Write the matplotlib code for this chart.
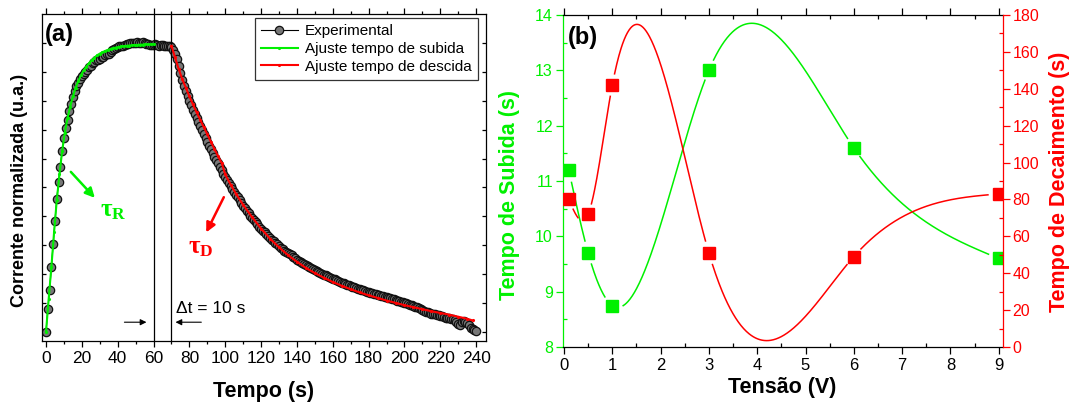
import numpy as np
import matplotlib
matplotlib.use("Agg")
import matplotlib.pyplot as plt

plt.rcParams['font.family'] = ['Liberation Sans', 'DejaVu Sans']

# ---------------- panel (a) data ----------------
t_exp = list(range(0, 241))
i_exp = [
    0.000, 0.080, 0.145, 0.225, 0.305, 0.385, 0.460, 0.520, 0.572, 0.625,
    0.672, 0.705, 0.735, 0.765, 0.790, 0.812, 0.835, 0.850, 0.862, 0.875,
    0.886, 0.893, 0.900, 0.906, 0.915, 0.920, 0.930, 0.935, 0.940, 0.942,
    0.945, 0.950, 0.952, 0.958, 0.960, 0.962, 0.968, 0.975, 0.980, 0.982,
    0.985, 0.988, 0.990, 0.990, 0.992, 0.995, 0.997, 0.998, 1.000, 0.998,
    1.000, 1.002, 1.000, 0.998, 1.003, 1.000, 0.997, 0.995, 0.993, 0.992,
    0.994, 0.995, 0.993, 0.990, 0.992, 0.994, 0.990, 0.988, 0.990, 0.988,
    0.985, 0.975, 0.962, 0.945, 0.920, 0.895, 0.872, 0.852, 0.833, 0.815,
    0.799, 0.784, 0.769, 0.754, 0.740, 0.726, 0.712, 0.698, 0.684, 0.671,
    0.658, 0.645, 0.632, 0.620, 0.607, 0.595, 0.583, 0.571, 0.560, 0.548,
    0.537, 0.527, 0.516, 0.506, 0.495, 0.485, 0.475, 0.466, 0.456, 0.446,
    0.437, 0.429, 0.420, 0.412, 0.403, 0.395, 0.388, 0.380, 0.372, 0.364,
    0.357, 0.351, 0.345, 0.338, 0.332, 0.325, 0.320, 0.314, 0.309, 0.303,
    0.297, 0.292, 0.287, 0.282, 0.277, 0.273, 0.270, 0.266, 0.260, 0.255,
    0.250, 0.247, 0.243, 0.239, 0.236, 0.232, 0.229, 0.226, 0.222, 0.218,
    0.215, 0.212, 0.208, 0.205, 0.202, 0.199, 0.196, 0.193, 0.190, 0.187,
    0.184, 0.182, 0.179, 0.176, 0.173, 0.171, 0.169, 0.166, 0.164, 0.161,
    0.159, 0.157, 0.155, 0.153, 0.150, 0.148, 0.146, 0.144, 0.142, 0.140,
    0.138, 0.136, 0.135, 0.133, 0.131, 0.129, 0.127, 0.126, 0.124, 0.122,
    0.120, 0.119, 0.117, 0.115, 0.113, 0.111, 0.109, 0.107, 0.105, 0.103,
    0.101, 0.099, 0.097, 0.095, 0.092, 0.090, 0.087, 0.085, 0.082, 0.079,
    0.077, 0.074, 0.071, 0.068, 0.066, 0.064, 0.063, 0.061, 0.059, 0.058,
    0.056, 0.054, 0.052, 0.050, 0.049, 0.047, 0.046, 0.045, 0.042, 0.035,
    0.028, 0.026, 0.035, 0.037, 0.036, 0.032, 0.025, 0.015, 0.010, 0.006,
    0.005,
]

t_rise_fit = [0, 1.5, 3, 4.5, 6, 7.5, 9, 10.5, 12, 13.5, 15, 16.5, 18, 19.5,
              21, 22.5, 24, 25.5, 27, 28.5, 30, 31.5, 33, 34.5, 36, 37.5, 39,
              40.5, 42, 43.5, 45, 46.5, 48, 49.5, 51, 52.5, 54, 55.5, 57, 58.5, 60]
i_rise_fit = [0.000, 0.115, 0.225, 0.345, 0.455, 0.545, 0.625, 0.690, 0.740,
              0.780, 0.815, 0.845, 0.868, 0.888, 0.905, 0.918, 0.930, 0.940,
              0.949, 0.957, 0.963, 0.968, 0.972, 0.976, 0.979, 0.982, 0.984,
              0.986, 0.988, 0.989, 0.990, 0.991, 0.992, 0.993, 0.993, 0.994,
              0.994, 0.995, 0.995, 0.995, 0.995]

t_decay_fit = [70, 72, 74, 76, 78, 80, 82, 84, 86, 88, 90, 92, 94, 96, 98,
               100, 103, 106, 110, 115, 120, 125, 130, 135, 140, 145, 150, 155,
               160, 165, 170, 175, 180, 185, 190, 195, 200, 205, 210, 215, 220,
               225, 230, 235, 238]
i_decay_fit = [0.990, 0.950, 0.910, 0.875, 0.845, 0.815, 0.787, 0.760, 0.735,
               0.709, 0.684, 0.658, 0.633, 0.608, 0.585, 0.545, 0.510, 0.478,
               0.440, 0.397, 0.358, 0.323, 0.293, 0.266, 0.243, 0.222, 0.204,
               0.188, 0.173, 0.160, 0.148, 0.137, 0.127, 0.118, 0.109, 0.101,
               0.093, 0.086, 0.079, 0.072, 0.066, 0.060, 0.053, 0.046, 0.040]

# ---------------- panel (b) data ----------------
tensao = [0.1, 0.5, 1, 3, 6, 9]
t_subida = [11.2, 9.7, 8.75, 13.0, 11.6, 9.6]
t_decaimento = [80, 72, 142, 51, 49, 83]

GREEN = '#00F000'
RED = '#FF0000'

W, H = 1074, 407
fig = plt.figure(figsize=(W / 100, H / 100), dpi=100)


def fx(x):
    return x / W


def fy(y):
    return 1 - y / H


def natural_spline(x, y, xs):
    # plain natural cubic spline, the way the original software joins the points
    x = np.asarray(x, float)
    y = np.asarray(y, float)
    n = len(x)
    h = np.diff(x)
    A = np.zeros((n, n))
    b = np.zeros(n)
    A[0, 0] = 1
    A[-1, -1] = 1
    for k in range(1, n - 1):
        A[k, k - 1] = h[k - 1]
        A[k, k] = 2 * (h[k - 1] + h[k])
        A[k, k + 1] = h[k]
        b[k] = 6 * ((y[k + 1] - y[k]) / h[k] - (y[k] - y[k - 1]) / h[k - 1])
    M = np.linalg.solve(A, b)
    idx = np.clip(np.searchsorted(x, xs) - 1, 0, n - 2)
    x0, x1 = x[idx], x[idx + 1]
    hh = x1 - x0
    a = (x1 - xs) / hh
    c = (xs - x0) / hh
    return (a * y[idx] + c * y[idx + 1]
            + ((a ** 3 - a) * M[idx] + (c ** 3 - c) * M[idx + 1]) * hh ** 2 / 6)


# ================= panel (a) =================
ax1 = fig.add_axes([0.03883, 0.16216, 0.4137, 0.80344])
ax1.plot(t_exp, i_exp, '-', color='black', lw=0.8, marker='o', ms=6,
         mfc='#777777', mec='#111111', mew=0.9, label='Experimental', zorder=2)
ax1.plot(t_rise_fit, i_rise_fit, '-', color=GREEN, lw=1.5, marker='.', ms=2.5,
         label='Ajuste tempo de subida', zorder=3)
ax1.plot(t_decay_fit, i_decay_fit, '-', color=RED, lw=1.5, marker='.', ms=2.5,
         label='Ajuste tempo de descida', zorder=3)
ax1.axvline(60, color='black', lw=0.9)
ax1.axvline(69.5, color='black', lw=0.9)

ax1.set_xlim(-2.4, 245.5)
ax1.set_ylim(-0.031, 1.10)
ax1.set_xticks(range(0, 241, 20))
ax1.set_xticks(range(10, 241, 20), minor=True)
ax1.set_yticks(np.arange(0, 1.01, 0.1))
ax1.set_yticklabels([])
ax1.tick_params(axis='x', which='major', direction='out', length=4.5, width=0.9,
                labelsize=12.5, pad=3)
ax1.tick_params(axis='x', which='minor', direction='out', length=2.5, width=0.9)
ax1.tick_params(axis='y', which='major', direction='in', length=3, width=0.9,
                right=True)
ax1.tick_params(axis='x', which='both', top=True)
ax1.tick_params(axis='x', which='both', labeltop=False)
for s in ax1.spines.values():
    s.set_linewidth(0.9)

leg = ax1.legend(loc='upper right', bbox_to_anchor=(0.982, 0.988),
                 borderaxespad=0, fontsize=11, frameon=True, fancybox=False,
                 edgecolor='black', handlelength=2.4, labelspacing=0.25,
                 handletextpad=0.5, borderpad=0.4, numpoints=1)
leg.get_frame().set_linewidth(0.9)

ax1.annotate('', xy=(57.6, 0.034), xytext=(42.2, 0.034),
             arrowprops=dict(arrowstyle='-|>', color='black', lw=0.8,
                             mutation_scale=9))
ax1.annotate('', xy=(70.7, 0.034), xytext=(88.2, 0.034),
             arrowprops=dict(arrowstyle='-|>', color='black', lw=0.8,
                             mutation_scale=9))
ax1.text(72.5, 0.08, '\u0394t = 10 s', fontsize=12.5, va='center', ha='left')

ax1.annotate('', xy=(28.3, 0.457), xytext=(12.8, 0.561),
             arrowprops=dict(arrowstyle='-|>', color=GREEN, lw=1.8,
                             mutation_scale=14))
ax1.annotate('', xy=(88.7, 0.336), xytext=(99.9, 0.475),
             arrowprops=dict(arrowstyle='-|>', color=RED, lw=1.8,
                             mutation_scale=14))
ax1.text(30, 0.42, r'$\mathregular{\tau_R}$', color=GREEN, fontsize=18,
         family='Liberation Serif', weight='bold', va='center', ha='left')
ax1.text(79.2, 0.294, r'$\mathregular{\tau_D}$', color=RED, fontsize=18,
         family='Liberation Serif', weight='bold', va='center', ha='left')

fig.text(fx(59), fy(34), '(a)', fontsize=17, weight='bold', ha='center', va='center')
fig.text(fx(264), fy(391), 'Tempo (s)', fontsize=15.5, weight='bold',
         ha='center', va='center')
fig.text(fx(20), fy(190.5), 'Corrente normalizada (u.a.)', fontsize=13,
         weight='bold', ha='center', va='center', rotation=90)

# ================= panel (b) =================
ax2 = fig.add_axes([0.52393, 0.14742, 0.40996, 0.81572])
ax3 = ax2.twinx()
ax2.set_xlim(-0.027, 9.089)
ax2.set_ylim(8, 14)
ax3.set_ylim(0, 180)

ax2.set_xticks(range(0, 10))
ax2.set_xticks(np.arange(0.5, 9.1, 1.0), minor=True)
ax2.set_yticks(range(8, 15))
ax2.set_yticks(np.arange(8.5, 14, 1.0), minor=True)
ax3.set_yticks(range(0, 181, 20))
ax3.set_yticks(range(10, 180, 20), minor=True)

ax2.tick_params(axis='x', which='major', direction='out', length=5, width=0.9,
                labelsize=12, pad=3, top=True)
ax2.tick_params(axis='x', which='minor', direction='in', length=3, width=0.9,
                top=True)
ax2.tick_params(axis='y', which='major', direction='out', length=5, width=0.9,
                labelsize=11.5, pad=2, colors=GREEN)
ax2.tick_params(axis='y', which='minor', direction='in', length=3, width=0.9,
                colors=GREEN)
ax3.tick_params(axis='y', which='major', direction='out', length=5, width=0.9,
                labelsize=11.5, pad=2, colors=RED)
ax3.tick_params(axis='y', which='minor', direction='in', length=3, width=0.9,
                colors=RED)
ax2.spines['left'].set_color(GREEN)
ax2.spines['right'].set_visible(False)
ax3.spines['left'].set_visible(False)
ax3.spines['right'].set_color(RED)
ax3.spines['top'].set_visible(False)
ax3.spines['bottom'].set_visible(False)
for s in list(ax2.spines.values()) + list(ax3.spines.values()):
    s.set_linewidth(0.9)

xs = np.linspace(0.1, 9, 800)
ys_g = natural_spline(tensao, t_subida, xs)
ys_r = natural_spline(tensao, t_decaimento, xs)


def cut_near_markers(ax, xv, yv, px, py, r=10.5):
    pts = ax.transData.transform(np.column_stack([xv, yv]))
    mk = ax.transData.transform(np.column_stack([px, py]))
    out = np.array(yv, float)
    for m in mk:
        d = np.hypot(pts[:, 0] - m[0], pts[:, 1] - m[1])
        out[d < r] = np.nan
    return out


ax2.plot(xs, cut_near_markers(ax2, xs, ys_g, tensao, t_subida), color=GREEN, lw=1.1)
ax3.plot(xs, cut_near_markers(ax3, xs, ys_r, tensao, t_decaimento), color=RED, lw=1.1)
ax2.plot(tensao, t_subida, 's', color=GREEN, ms=8, mec=GREEN, zorder=4)
ax3.plot(tensao, t_decaimento, 's', color=RED, ms=8, mec=RED, zorder=4)

fig.text(fx(582.5), fy(37.5), '(b)', fontsize=17, weight='bold', ha='center', va='center')
fig.text(fx(782.5), fy(387), 'Tens\u00e3o (V)', fontsize=15.5, weight='bold',
         ha='center', va='center')
fig.text(fx(509), fy(195), 'Tempo de Subida (s)', fontsize=15.5, weight='bold',
         color=GREEN, ha='center', va='center', rotation=90)
fig.text(fx(1059), fy(182), 'Tempo de Decaimento (s)', fontsize=15.5,
         weight='bold', color=RED, ha='center', va='center', rotation=90)

fig.savefig('out.png', dpi=100)
